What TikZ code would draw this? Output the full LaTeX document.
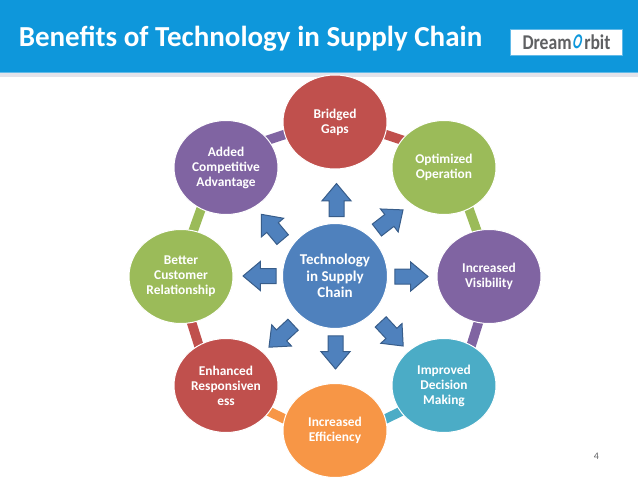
\documentclass[tikz,border=0pt]{standalone}
\usepackage{fontspec}
\setmainfont{Carlito}
\usepackage{xcolor}
\usepackage{tikz}
\usetikzlibrary{shapes.geometric}
\usetikzlibrary{shapes.arrows}
\usetikzlibrary{backgrounds}
\definecolor{headblue}{HTML}{0E97DB}
\definecolor{headline}{HTML}{62BAE8}
\definecolor{headgrey}{HTML}{E3E3EA}
\definecolor{logogrey}{HTML}{5F6062}
\definecolor{bubred}{HTML}{C0504D}
\definecolor{bubgreen}{HTML}{9BBB59}
\definecolor{bubpurple}{HTML}{8064A2}
\definecolor{bubteal}{HTML}{4BACC6}
\definecolor{buborange}{HTML}{F79646}
\definecolor{bubblue}{HTML}{4F81BD}
\definecolor{arrowline}{HTML}{385D8A}

\begin{document}
\begin{tikzpicture}[
		x=1pt, y=-1pt,
		e/.style = {ellipse,	draw=white,	line width=1pt,	minimum width=104pt,	minimum height=94pt,	inner sep=0pt,	align=center,	text=white,	font=\fontsize{13.4}{15}\selectfont\bfseries},
		hub/.style = {circle,	draw=white,	line width=1pt,	fill=bubblue,	minimum size=105pt,	inner sep=0pt,	align=center,	text=white,	font=\fontsize{15}{16.5}\selectfont\bfseries},
		b/.style = {single arrow,	draw=arrowline,	fill=bubblue,	line width=1pt,	minimum height=33pt,	inner xsep=0pt,	inner ysep=7pt,	single arrow head extend=7pt,	single arrow tip angle=80},
		r/.style = {line width=9.5pt,	shorten <=-3pt,	shorten >=-3pt}
		]
		\useasboundingbox (0, 0) rectangle (638, 479);
		
		%Header
		\fill[headgrey]	(0, 72)	rectangle (638, 77);
		\fill[headline]	(0, 71)	rectangle (638, 73);
		\fill[headblue]	(0, 0)	rectangle (638, 71.5);
		\node[text=white,	font=\fontsize{29}{30}\selectfont\bfseries]	(title)	at	(250.5, 39)	{Benefits of Technology in Supply Chain};
		\node[fill=white,	draw=headline,	minimum width=112pt,	minimum height=26pt,	inner sep=0pt,	text=logogrey,	font=\fontsize{21}{22}\selectfont\bfseries]	(logo)	at	(566.5, 42)	{\scalebox{0.84}[1]{Dream\textcolor{headblue}{\rotatebox[origin=c]{-22}{\scalebox{0.72}[1.05]{O}}}rbit}};
		
		%Nodes
		\node[hub]	(tech)	at	(335, 276)	{Technology\\in Supply\\Chain};
		
		\node[e,	fill=bubred]	(gaps)	at	(335, 122)	{Bridged\\Gaps};
		\node[e,	fill=bubgreen]	(oper)	at	(444, 167.5)	{Optimized\\Operation};
		\node[e,	fill=bubpurple]	(visi)	at	(489, 276.5)	{Increased\\Visibility};
		\node[e,	fill=bubteal]	(deci)	at	(444, 385.5)	{Improved\\Decision\\Making};
		\node[e,	fill=buborange]	(effi)	at	(335, 430.5)	{Increased\\Efficiency};
		\node[e,	fill=bubred]	(resp)	at	(226, 385.5)	{Enhanced\\Responsiven\\ess};
		\node[e,	fill=bubgreen]	(cust)	at	(181, 276.5)	{Better\\Customer\\Relationship};
		\node[e,	fill=bubpurple]	(comp)	at	(226, 167.5)	{Added\\Competitive\\Advantage};
		
		%Arrows
		\node[b,	rotate=90]	(a1)	at	(336.5, 204.5)	{};
		\node[b,	rotate=37.6]	(a2)	at	(386.4, 222.7)	{};
		\node[b,	rotate=0]	(a3)	at	(407, 276.5)	{};
		\node[b,	rotate=-47]	(a4)	at	(388.9, 330.7)	{};
		\node[b,	rotate=-90]	(a5)	at	(335.5, 348)	{};
		\node[b,	rotate=223]	(a6)	at	(284.3, 332.9)	{};
		\node[b,	rotate=180]	(a7)	at	(264, 276)	{};
		\node[b,	rotate=130]	(a8)	at	(274.9, 230.4)	{};
		
		%Lines
		\begin{pgfonlayer}{background}
			\draw[r,	bubred]	(gaps.-14)	to	(oper.147);
			\draw[r,	bubgreen]	(oper.-59)	to	(visi.105);
			\draw[r,	bubpurple]	(visi.-103)	to	(deci.56);
			\draw[r,	bubteal]	(deci.211)	to	(effi.13);
			\draw[r,	buborange]	(effi.167)	to	(resp.-31);
			\draw[r,	bubred]	(resp.124)	to	(cust.-77);
			\draw[r,	bubgreen]	(cust.75)	to	(comp.239);
			\draw[r,	bubpurple]	(comp.33)	to	(gaps.194);
		\end{pgfonlayer}
		
		\node[text=logogrey,	font=\fontsize{10}{12}\selectfont]	(page)	at	(596.5, 456)	{4};
	\end{tikzpicture}
\end{document}
